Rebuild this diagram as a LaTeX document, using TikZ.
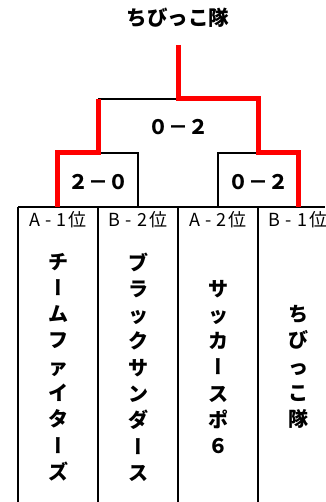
\documentclass[tikz,border=0pt]{standalone}
\usepackage{fontspec}
\usepackage{graphicx}
\newfontfamily\jp{Noto Sans CJK JP}
\newfontfamily\jpv[RawFeature=+vert]{Noto Sans CJK JP}
\newcommand\chouon{{\jpv ー}}
\newcommand\lbsp{\hspace{5pt}}
\tikzset{
  blk/.style={draw=black, line width=2pt},
  redln/.style={draw=red, line width=5pt},
  title/.style={font=\jp\bfseries\fontsize{20.5}{24}\selectfont, inner sep=0pt},
  score/.style={font=\jp\bfseries\fontsize{20}{24}\selectfont, inner sep=0pt},
  rank/.style={font=\jp\fontsize{18}{20}\selectfont, inner sep=0pt},
  vtext/.style={font=\jp\bfseries\fontsize{20}{26.3}\selectfont, align=center, inner sep=0pt},
}
\begin{document}
\begin{tikzpicture}[x=1pt, y=-1pt]
\useasboundingbox (0,0) rectangle (325,502);
\fill[white] (0,0) rectangle (325,502);
% title
\node[title] (champ) at (178,18) {ちびっこ隊};
% coordinates
\coordinate (top) at (178,45);
\coordinate (fL) at (98,99);
\coordinate (fR) at (258,99);
\coordinate (fM) at (178,99);
\coordinate (sLL) at (57,153);
\coordinate (sLR) at (138,153);
\coordinate (sRL) at (218,153);
\coordinate (sRR) at (298,153);
\coordinate (c1) at (57,207);
\coordinate (c2) at (138,207);
\coordinate (c3) at (218,207);
\coordinate (c4) at (298,207);
% column frame
\coordinate (ctl) at (18,207);
\coordinate (ctr) at (325,207);
\draw[blk] (ctl) -- (ctr);
\foreach \x in {18,98,178,258} {
  \draw[blk] (\x,207) -- (\x,503);
}
% black bracket lines
\draw[blk] (fL) -- (fR);
\draw[blk] (sLL) -- (sLR) -- (c2);
\draw[blk] (sRR) -- (sRL) -- (c3);
% red winner path
\draw[redln] (top) -- (fM) -- (fR) -- (fR |- sRR) -- (sRR) -- (c4);
\draw[redln] (fL) -- (fL |- sLL) -- (sLL) -- (c1);
% scores
\node[score] (sf) at (178,127) {０－２};
\node[score] (s1) at (98,182) {２－０};
\node[score] (s2) at (258,182) {０－２};
% ranks
\node[rank] (r1) at (58,220) {A\lbsp-\lbsp1\hspace{2pt}位};
\node[rank] (r2) at (138,220) {B\lbsp-\lbsp2\hspace{2pt}位};
\node[rank] (r3) at (218,220) {A\lbsp-\lbsp2\hspace{2pt}位};
\node[rank] (r4) at (298,220) {B\lbsp-\lbsp1\hspace{2pt}位};
% team names
\node[vtext] (t1) at (58,367) {チ\\\chouon\\ム\\フ\\ァ\\イ\\タ\\\chouon\\ズ};
\node[vtext] (t2) at (138,367) {ブ\\ラ\\ッ\\ク\\サ\\ン\\ダ\\\chouon\\ス};
\node[vtext] (t3) at (218,367) {サ\\ッ\\カ\\\chouon\\ス\\ポ\\６};
\node[vtext] (t4) at (298,367) {ち\\び\\っ\\こ\\隊};
\end{tikzpicture}
\end{document}
